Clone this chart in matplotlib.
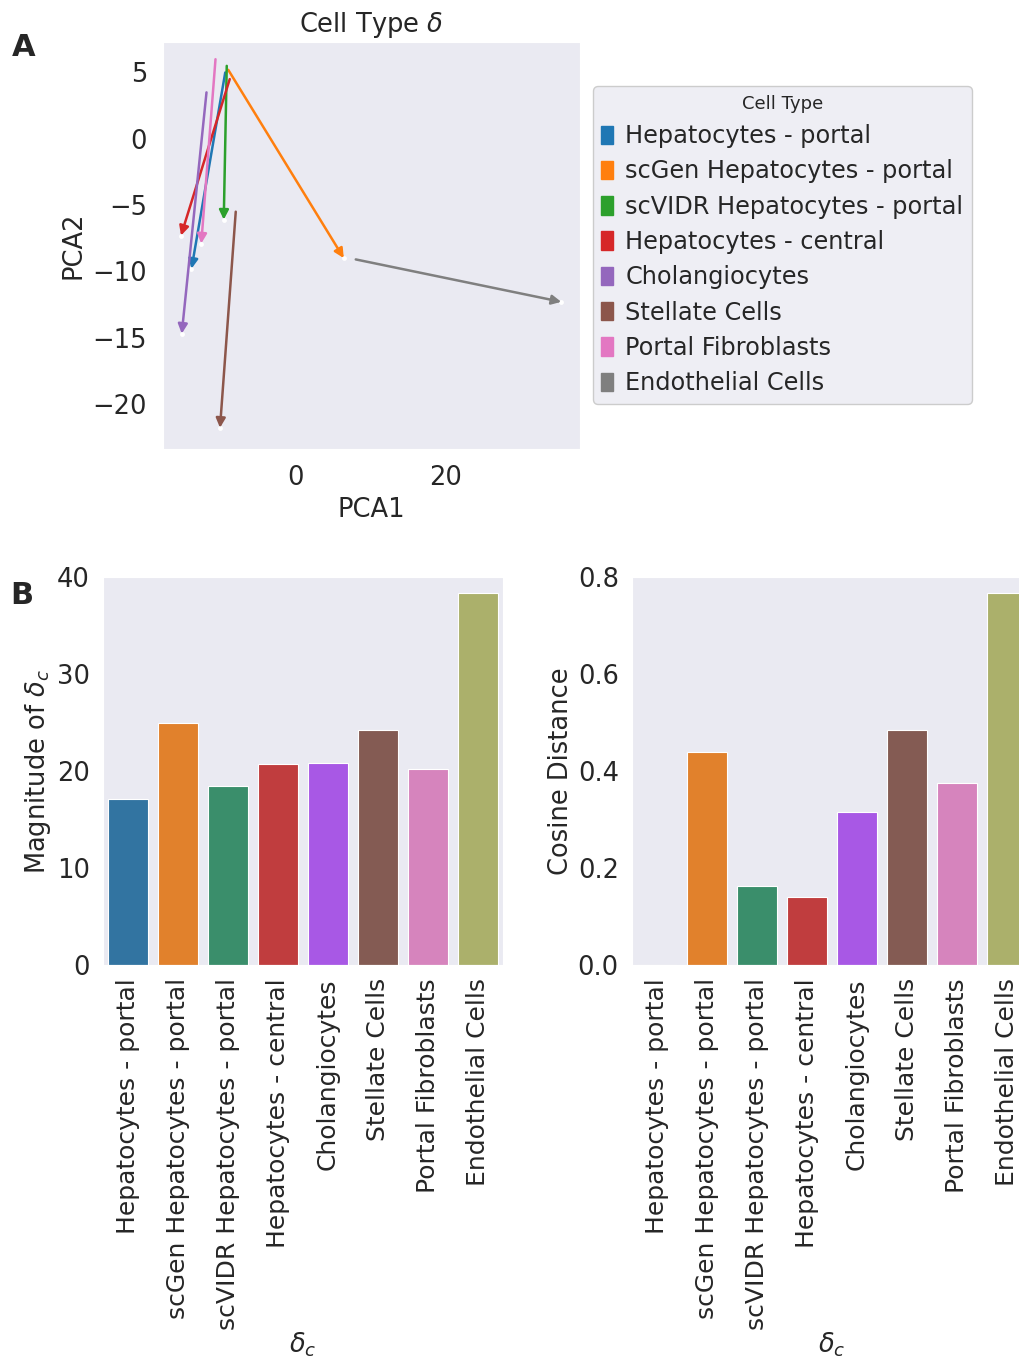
import matplotlib
matplotlib.use("Agg")
from matplotlib import pyplot as plt
from matplotlib.patches import Patch
import seaborn as sns

sns.set_style("dark")
plt.rcParams["font.family"] = ["DejaVu Sans"]

# cell types, in legend / bar order
cell_types = [
    "Hepatocytes - portal",
    "scGen Hepatocytes - portal",
    "scVIDR Hepatocytes - portal",
    "Hepatocytes - central",
    "Cholangiocytes",
    "Stellate Cells",
    "Portal Fibroblasts",
    "Endothelial Cells",
]

# delta vectors in PCA space: start and end points
start_x = [-9.4, -9.0, -9.2, -8.8, -11.9, -8.0, -10.7, 8.0]
start_y = [5.0, 5.2, 5.5, 4.5, 3.5, -5.5, 6.0, -9.1]
end_x = [-13.9, 6.4, -9.6, -15.3, -15.2, -10.1, -12.6, 35.4]
end_y = [-9.8, -9.0, -6.1, -7.3, -14.7, -21.8, -7.9, -12.3]

# bar values
magnitude = [17.1, 25.0, 18.5, 20.7, 20.8, 24.2, 20.2, 38.3]
cosine_dist = [0.0, 0.439, 0.163, 0.141, 0.316, 0.485, 0.376, 0.766]

arrow_colors = ["#1f77b4", "#ff7f0e", "#2ca02c", "#d62728",
                "#9467bd", "#8c564b", "#e377c2", "#7f7f7f"]
bar_colors = ["#3274a1", "#e1812c", "#3a8e6b", "#c03d3e",
              "#a858e5", "#845b53", "#d684bd", "#abb06b"]

txt = "#262626"
fs = 18.5
fig = plt.figure(figsize=(10.2, 13.6), dpi=100)

# ---- panel A
ax = fig.add_axes([163 / 1020, 1 - 449 / 1360, 417 / 1020, 407 / 1360])
ax.scatter(end_x, end_y, s=12, c="white", zorder=1, linewidths=0)
for i in range(len(cell_types)):
    ax.annotate("", xy=(end_x[i], end_y[i]), xytext=(start_x[i], start_y[i]),
                arrowprops=dict(arrowstyle="-|>", color=arrow_colors[i], lw=1.8,
                                mutation_scale=14, shrinkA=0, shrinkB=0),
                zorder=2)
ax.set_xlim(-17.7, 37.9)
ax.set_ylim(-23.4, 7.3)
ax.set_xticks([0, 20])
ax.set_yticks([5, 0, -5, -10, -15, -20])
ax.set_yticklabels(["5", "0", "\u22125", "\u221210", "\u221215", "\u221220"])
ax.tick_params(labelsize=fs, colors=txt, pad=8)
ax.set_xlabel("PCA1", fontsize=fs, color=txt, labelpad=4)
ax.set_ylabel("PCA2", fontsize=fs, color=txt, labelpad=4)
ax.set_title("Cell Type $\\delta$", fontsize=fs, color=txt, pad=7)

handles = [Patch(facecolor=c, edgecolor=c) for c in arrow_colors]
leg = fig.legend(handles, cell_types, title="Cell Type", loc="center left",
                 bbox_to_anchor=(593 / 1020, 1 - 245 / 1360), fontsize=17.3,
                 title_fontsize=13, handlelength=0.5, handleheight=0.8,
                 handletextpad=0.5, labelspacing=0.47, borderpad=0.35,
                 borderaxespad=0, frameon=True, facecolor="#eeeef4",
                 edgecolor="#cccccc", framealpha=1)
for t in leg.get_texts():
    t.set_color(txt)
leg.get_title().set_color(txt)

# ---- panel B
def bar_panel(left, values, ylim, yticks, ylabel, fmt):
    axb = fig.add_axes([left / 1020, 1 - 965 / 1360, 400 / 1020, 388 / 1360])
    pos = list(range(len(values)))
    axb.bar(pos, values, width=0.8, color=bar_colors, edgecolor="white",
            linewidth=0.8)
    axb.set_xlim(-0.5, len(values) - 0.5)
    axb.set_ylim(*ylim)
    axb.set_yticks(yticks)
    axb.set_yticklabels([fmt.format(v) for v in yticks])
    axb.set_xticks(pos)
    axb.set_xticklabels(cell_types, rotation=90)
    axb.tick_params(axis="y", labelsize=fs, colors=txt, pad=6)
    axb.tick_params(axis="x", labelsize=18, colors=txt, pad=6)
    axb.set_ylabel(ylabel, fontsize=fs, color=txt, labelpad=3)
    axb.set_xlabel("$\\delta_c$", fontsize=fs, color=txt, labelpad=0)
    return axb

bar_panel(103, magnitude, (0, 40), [0, 10, 20, 30, 40], "Magnitude of $\\delta_c$", "{:g}")
bar_panel(632, cosine_dist, (0, 0.8), [0.0, 0.2, 0.4, 0.6, 0.8], "Cosine Distance", "{:.1f}")

fig.text(0.012, 1 - 48 / 1360, "A", fontsize=22, fontweight="bold", va="center")
fig.text(0.010, 1 - 595 / 1360, "B", fontsize=22, fontweight="bold", va="center")

fig.savefig("out.png", dpi=100)
